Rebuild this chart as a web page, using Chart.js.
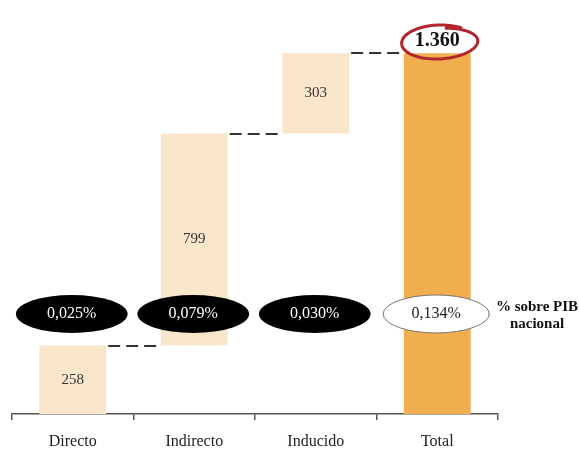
<!DOCTYPE html>
<html><head><meta charset="utf-8">
<script src="https://cdn.jsdelivr.net/npm/chart.js@4/dist/chart.umd.min.js"></script>
<style>html,body{margin:0;padding:0;background:#fff}canvas{display:block}</style>
</head><body>
<canvas id="c" width="579" height="449"></canvas>
<script>
const categories = ['Directo', 'Indirecto', 'Inducido', 'Total'];
const increments = [258, 799, 303];
const totalValue = 1360;
const valueLabels = ['258', '799', '303', '1.360'];
const pctLabels = ['0,025%', '0,079%', '0,030%', '0,134%'];
const pctRowTitle = ['% sobre PIB', 'nacional'];
const pctRowLevel = 377; // value level on the y scale where the % row sits
const yMax = 1500;

// floating waterfall segments built from the arrays
const segments = [];
let run = 0;
increments.forEach(v => { segments.push([run, run + v]); run += v; });
segments.push([0, totalValue]);
const ends = segments.map(s => s[1]);

const LIGHT = '#FAE6CB';
const ORANGE = '#F0AE4E';
const SERIF = '"Liberation Serif", "DejaVu Serif", serif';

const overlay = {
  id: 'overlay',
  afterDatasetsDraw(chart) {
    const ctx = chart.ctx;
    const meta = chart.getDatasetMeta(0);
    const ys = chart.scales.y;
    const xs = chart.scales.x;
    const els = meta.data;
    ctx.save();
    // dashed connectors
    ctx.strokeStyle = '#333';
    ctx.lineWidth = 2;
    ctx.setLineDash([12, 6]);
    for (let i = 0; i < els.length - 1; i++) {
      const a = els[i], b = els[i + 1];
      const y = Math.round(ys.getPixelForValue(ends[i]));
      ctx.beginPath();
      ctx.moveTo(a.x + a.width / 2 + 2, y);
      ctx.lineTo(b.x - b.width / 2 - 1, y);
      ctx.stroke();
    }
    ctx.setLineDash([]);
    // value labels inside bars
    ctx.fillStyle = '#333';
    ctx.textAlign = 'center';
    ctx.textBaseline = 'middle';
    ctx.font = '15px ' + SERIF;
    for (let i = 0; i < els.length - 1; i++) {
      const e = els[i];
      ctx.fillText(valueLabels[i], e.x, (e.y + e.base) / 2);
    }
    // total label
    const t = els[els.length - 1];
    const ty = Math.min(t.y, t.base) - 12;
    ctx.font = 'bold 20px ' + SERIF;
    ctx.fillStyle = '#111';
    ctx.fillText(valueLabels[els.length - 1], t.x, ty);
    // hand-drawn red circle
    ctx.strokeStyle = '#B3262C';
    ctx.lineWidth = 3;
    ctx.lineCap = 'round';
    ctx.beginPath();
    const cx = t.x + 2, cy = ty + 1;
    const steps = 80;
    for (let k = 0; k <= steps; k++) {
      const f = k / steps;
      const ang = -Math.PI * 0.3 - f * (2 * Math.PI + 0.45);
      const rx = 37 + 2 * f;
      const ry = 17 + 1.5 * Math.sin(f * Math.PI) - 3 * f;
      const px = cx + rx * Math.cos(ang);
      const py = cy + ry * Math.sin(ang) - 1 * Math.cos(ang);
      if (k === 0) ctx.moveTo(px, py); else ctx.lineTo(px, py);
    }
    ctx.stroke();
    // percentage ellipses
    const py = ys.getPixelForValue(pctRowLevel);
    const catW = (xs.right - xs.left) / categories.length;
    const rx = catW * 0.46, ry = 19;
    ctx.font = '16px ' + SERIF;
    els.forEach((e, i) => {
      const last = i === els.length - 1;
      const erx = last ? rx * 0.95 : rx;
      ctx.beginPath();
      ctx.ellipse(e.x - 1, py, erx, ry, 0, 0, Math.PI * 2);
      ctx.fillStyle = last ? '#fff' : '#000';
      ctx.fill();
      if (last) { ctx.strokeStyle = '#777'; ctx.lineWidth = 1; ctx.stroke(); }
      ctx.fillStyle = last ? '#222' : '#fff';
      ctx.fillText(pctLabels[i], e.x - 1, py);
    });
    // row title
    ctx.fillStyle = '#111';
    ctx.font = 'bold 15px ' + SERIF;
    ctx.fillText(pctRowTitle[0], 537, py - 7);
    ctx.fillText(pctRowTitle[1], 537, py + 10);
    ctx.restore();
  }
};

new Chart(document.getElementById('c'), {
  type: 'bar',
  data: {
    labels: categories,
    datasets: [{
      data: segments,
      backgroundColor: [LIGHT, LIGHT, LIGHT, ORANGE],
      borderWidth: 0,
      categoryPercentage: 1,
      barPercentage: 0.55
    }]
  },
  options: {
    responsive: false,
    animation: false,
    layout: { padding: { left: 12, right: 81, top: 16, bottom: 0 } },
    plugins: { legend: { display: false }, tooltip: { enabled: false } },
    scales: {
      y: { display: false, min: 0, max: yMax },
      x: {
        grid: { display: true, drawOnChartArea: false, drawTicks: true, tickLength: 6, color: '#555', lineWidth: 1.5, offset: true },
        border: { display: true, color: '#555', width: 1.5 },
        ticks: { color: '#222', font: { family: SERIF, size: 16 }, padding: 12 },
        afterFit(s) { s.height = 35; }
      }
    }
  },
  plugins: [overlay]
});
</script>
</body></html>
